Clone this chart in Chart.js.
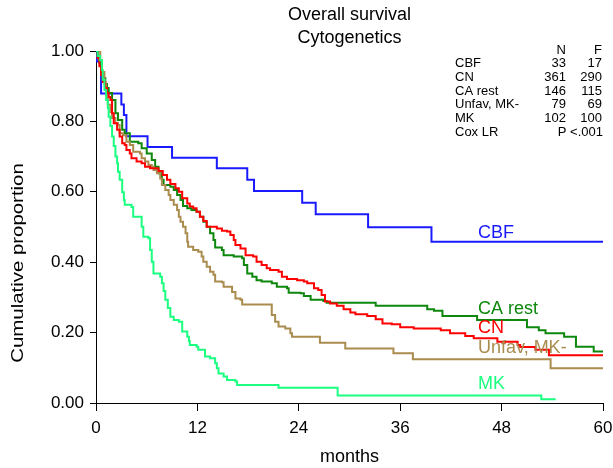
<!DOCTYPE html>
<html>
<head>
<meta charset="utf-8">
<title>Overall survival - Cytogenetics</title>
<script src="https://cdn.jsdelivr.net/npm/chart.js"></script>
<style>
    html, body { margin: 0; padding: 0; background: #fff; }
    #wrap { width: 613px; height: 468px; }
</style>
</head>
<body>
<div id="wrap"><canvas id="survChart" width="613" height="468"></canvas></div>
<script>
// Kaplan-Meier steps: month of each drop, proportion after it
const cbfMonths = [0, 0.1, 0.6, 3.0, 3.3, 3.6, 6.1, 9.0, 14.3, 17.9, 18.7, 24.4, 26.0, 32.2, 39.7, 60];
const cbfSurv   = [1, 0.97, 0.879, 0.848, 0.818, 0.758, 0.727, 0.697, 0.667, 0.634, 0.602, 0.569, 0.536, 0.499, 0.458, 0.458];

const cnMonths = [0, 0.2, 0.4, 0.6, 0.8, 1.1, 1.3, 1.5, 1.7, 1.9, 2.1, 2.5, 2.8, 3.1, 3.4, 3.6, 4.0, 4.2, 4.8, 5.4,
    5.8, 6.4, 7.4, 7.9, 8.4, 8.8, 9.4, 9.8, 10.2, 10.8, 11.1, 11.5, 11.9, 12.3, 12.7, 13.1, 14.3, 14.9, 15.5, 15.9,
    16.3, 16.5, 17.1, 17.7, 18.6, 19.0, 19.6, 20.2, 20.6, 21.6, 22.0, 22.6, 23.8, 24.6, 25.0, 25.8, 26.3, 26.7, 27.1, 27.7,
    28.5, 29.3, 30.1, 30.7, 32.1, 33.1, 33.9, 35.0, 36.0, 37.6, 40.8, 41.9, 43.7, 44.7, 47.5, 49.9, 50.2, 52.0, 53.6, 60];
const cnSurv = [1, 0.98, 0.957, 0.932, 0.912, 0.895, 0.881, 0.869, 0.861, 0.823, 0.795, 0.776, 0.757, 0.738, 0.733, 0.719, 0.709, 0.695, 0.686, 0.681,
    0.671, 0.667, 0.659, 0.648, 0.634, 0.622, 0.61, 0.6, 0.582, 0.567, 0.558, 0.553, 0.543, 0.529, 0.517, 0.501, 0.496, 0.489, 0.487, 0.477,
    0.463, 0.449, 0.439, 0.42, 0.416, 0.401, 0.392, 0.383, 0.378, 0.373, 0.359, 0.352, 0.349, 0.345, 0.34, 0.326, 0.321, 0.307, 0.288, 0.283,
    0.276, 0.266, 0.257, 0.252, 0.247, 0.238, 0.226, 0.224, 0.215, 0.212, 0.207, 0.198, 0.19, 0.184, 0.174, 0.165, 0.159, 0.151, 0.136, 0.136];

const caMonths = [0, 0.2, 0.4, 0.6, 0.8, 1.1, 1.3, 1.5, 1.9, 2.3, 2.6, 3.1, 3.4, 4.0, 5.0, 5.4, 6.0, 6.6, 7.0, 7.4,
    7.8, 8.0, 8.8, 9.2, 9.6, 10.0, 10.3, 10.8, 11.3, 11.9, 12.3, 12.7, 13.1, 13.5, 13.9, 14.1, 14.9, 15.1, 16.3, 17.3,
    17.5, 17.9, 18.5, 19.0, 19.6, 20.8, 21.4, 22.6, 22.8, 24.2, 24.6, 25.4, 26.9, 27.3, 33.1, 39.2, 40.0, 41.0, 45.1, 51.0,
    52.4, 53.2, 55.4, 56.8, 58.9, 60];
const caSurv = [1, 0.986, 0.966, 0.94, 0.923, 0.906, 0.895, 0.881, 0.861, 0.823, 0.804, 0.776, 0.766, 0.742, 0.738, 0.724, 0.709, 0.69, 0.671, 0.653,
    0.634, 0.619, 0.614, 0.605, 0.591, 0.577, 0.56, 0.553, 0.548, 0.543, 0.529, 0.515, 0.501, 0.482, 0.463, 0.442, 0.435, 0.42, 0.416, 0.411,
    0.392, 0.368, 0.359, 0.349, 0.345, 0.34, 0.33, 0.326, 0.313, 0.312, 0.304, 0.293, 0.29, 0.285, 0.276, 0.266, 0.262, 0.247, 0.236, 0.215,
    0.207, 0.198, 0.188, 0.16, 0.146, 0.146];

const unfavMonths = [0, 0.5, 0.7, 1.0, 1.2, 1.4, 1.7, 1.9, 2.3, 2.6, 2.8, 3.2, 3.6, 4.0, 4.4, 5.2, 5.4, 5.8, 6.2, 6.6,
    6.8, 7.2, 7.6, 7.8, 8.2, 8.6, 8.8, 9.2, 9.6, 9.8, 10.0, 10.3, 10.6, 10.8, 10.9, 11.5, 12.1, 12.5, 12.7, 13.1,
    13.5, 13.9, 14.1, 14.9, 15.1, 16.1, 16.5, 17.1, 17.3, 20.8, 21.2, 21.6, 22.4, 23.0, 23.2, 26.5, 29.5, 35.2, 37.5, 53.8, 60];
const unfavSurv = [1, 0.974, 0.94, 0.906, 0.875, 0.847, 0.827, 0.81, 0.795, 0.79, 0.766, 0.761, 0.742, 0.733, 0.714, 0.709, 0.695, 0.686, 0.676, 0.671,
    0.662, 0.653, 0.638, 0.619, 0.605, 0.591, 0.577, 0.563, 0.548, 0.529, 0.515, 0.501, 0.482, 0.458, 0.444, 0.435, 0.43, 0.416, 0.401, 0.387,
    0.373, 0.364, 0.345, 0.343, 0.33, 0.315, 0.297, 0.293, 0.28, 0.25, 0.231, 0.217, 0.212, 0.198, 0.188, 0.171, 0.155, 0.141, 0.124, 0.099, 0.099];

const mkMonths = [0, 0.2, 0.5, 0.7, 0.8, 1.0, 1.2, 1.4, 1.5, 1.7, 1.9, 2.1, 2.3, 2.5, 2.6, 2.8, 3.1, 3.3, 3.4, 4.2,
    4.4, 5.4, 5.6, 6.2, 6.4, 6.6, 6.8, 7.6, 7.8, 8.0, 8.2, 8.5, 8.8, 9.2, 9.8, 10.2, 10.8, 11.0, 11.1, 11.9,
    12.1, 12.9, 13.5, 14.1, 14.3, 14.5, 15.1, 15.5, 16.5, 16.7, 21.6, 28.6, 52.7, 54.4];
const mkSurv = [1, 0.986, 0.974, 0.946, 0.918, 0.889, 0.861, 0.838, 0.813, 0.787, 0.757, 0.73, 0.7, 0.681, 0.657, 0.634, 0.599, 0.577, 0.563, 0.557,
    0.529, 0.501, 0.472, 0.468, 0.435, 0.401, 0.368, 0.359, 0.34, 0.318, 0.293, 0.27, 0.245, 0.236, 0.231, 0.203, 0.188, 0.176, 0.165, 0.16,
    0.151, 0.132, 0.127, 0.113, 0.099, 0.084, 0.075, 0.065, 0.061, 0.051, 0.043, 0.021, 0.011, 0.011];

const groupNames = ["CBF", "CN", "CA rest", "Unfav, MK-", "MK"];
const groupN = [33, 361, 146, 79, 102];
const groupF = [17, 290, 115, 69, 100];
const xTicks = [0, 12, 24, 36, 48, 60];
const yTicks = [0, 0.2, 0.4, 0.6, 0.8, 1.0];

const FONT = '"Liberation Sans", Arial, sans-serif';
const colors = {
    "CBF": "#1a1aff",
    "CN": "#ff0000",
    "CA rest": "#0d880d",
    "Unfav, MK-": "#a98c4e",
    "MK": "#1aff80"
};

function toPoints(months, surv) {
    return months.map((m, i) => ({ x: m, y: surv[i] }));
}

function curve(name, months, surv) {
    return {
        label: name,
        data: toPoints(months, surv),
        showLine: true,
        stepped: true,
        borderColor: colors[name],
        backgroundColor: colors[name],
        borderWidth: 2,
        pointRadius: 0,
        fill: false
    };
}

// text that Chart.js does not place where the original has it
const textPlugin = {
    id: "survTexts",
    afterDraw(chart) {
        const ctx = chart.ctx;
        const xs = chart.scales.x, ys = chart.scales.y;
        const area = chart.chartArea;
        const cx = (area.left + area.right) / 2;

        ctx.save();
        ctx.fillStyle = "#000";
        ctx.textBaseline = "middle";
        ctx.textAlign = "center";
        ctx.font = "18px " + FONT;
        ctx.fillText("Overall survival", cx, 15);
        ctx.fillText("Cytogenetics", cx, 38);
        ctx.fillText("months", cx, 457);

        // the original axis title is drawn long and narrow
        ctx.save();
        ctx.translate(18, 263);
        ctx.rotate(-Math.PI / 2);
        ctx.scale(1.2, 1);
        ctx.font = "17px " + FONT;
        ctx.fillText("Cumulative proportion", 0, 0);
        ctx.restore();

        // N / F table, top right
        ctx.font = "13px " + FONT;
        const rowY = i => 50 + i * 13.7;
        ctx.textAlign = "right";
        ctx.fillText("N", 566, rowY(0));
        ctx.fillText("F", 602, rowY(0));
        groupNames.forEach((g, i) => {
            ctx.textAlign = "left";
            ctx.fillText(g, 455, rowY(i + 1));
            ctx.textAlign = "right";
            ctx.fillText(String(groupN[i]), 566, rowY(i + 1));
            ctx.fillText(String(groupF[i]), 602, rowY(i + 1));
        });
        ctx.textAlign = "left";
        ctx.fillText("Cox LR", 455, rowY(6));
        ctx.textAlign = "right";
        ctx.fillText("P <.001", 603, rowY(6));

        // curve labels
        const labelAt = {
            "CBF": [45.2, 0.484],
            "CA rest": [45.2, 0.267],
            "CN": [45.2, 0.214],
            "Unfav, MK-": [45.2, 0.156],
            "MK": [45.2, 0.054]
        };
        ctx.font = "18px " + FONT;
        ctx.textAlign = "left";
        groupNames.forEach(g => {
            ctx.fillStyle = colors[g];
            ctx.fillText(g, xs.getPixelForValue(labelAt[g][0]), ys.getPixelForValue(labelAt[g][1]));
        });
        ctx.restore();
    }
};

const ctx = document.getElementById("survChart").getContext("2d");
new Chart(ctx, {
    type: "scatter",
    data: {
        datasets: [
            curve("MK", mkMonths, mkSurv),
            curve("CN", cnMonths, cnSurv),
            curve("Unfav, MK-", unfavMonths, unfavSurv),
            curve("CA rest", caMonths, caSurv),
            curve("CBF", cbfMonths, cbfSurv)
        ]
    },
    options: {
        responsive: false,
        animation: false,
        devicePixelRatio: 1,
        layout: { padding: { top: 51, right: 10, left: 0, bottom: 0 } },
        plugins: {
            legend: { display: false },
            tooltip: { enabled: false },
            title: { display: false }
        },
        scales: {
            x: {
                type: "linear",
                min: 0,
                max: 60,
                afterBuildTicks: s => { s.ticks = xTicks.map(v => ({ value: v })); },
                afterFit: s => { s.height = 65; s.paddingLeft = 0; s.paddingRight = 0; },
                ticks: {
                    color: "#000",
                    font: { family: FONT, size: 17 },
                    padding: 7,
                    maxRotation: 0
                },
                grid: { drawOnChartArea: false, drawTicks: true, tickLength: 8, color: "#000" },
                border: { display: true, color: "#000", width: 1 }
            },
            y: {
                type: "linear",
                min: 0,
                max: 1,
                afterBuildTicks: s => { s.ticks = yTicks.map(v => ({ value: v })); },
                afterFit: s => { s.width = 96; s.paddingTop = 0; s.paddingBottom = 0; },
                ticks: {
                    color: "#000",
                    font: { family: FONT, size: 17 },
                    padding: 6,
                    callback: v => Number(v).toFixed(2)
                },
                grid: { drawOnChartArea: false, drawTicks: true, tickLength: 6, color: "#000" },
                border: { display: true, color: "#000", width: 1 }
            }
        }
    },
    plugins: [textPlugin]
});
</script>
</body>
</html>
